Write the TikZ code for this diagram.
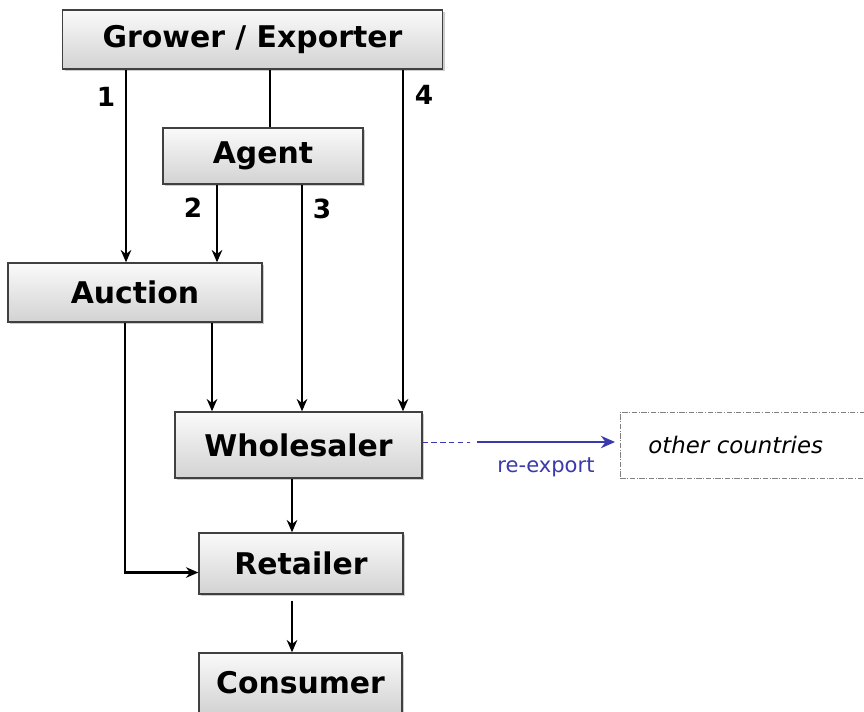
\documentclass[tikz,border=0pt]{standalone}
\usepackage{fontspec}
\setmainfont{DejaVu Sans}
\usetikzlibrary{shadows,arrows.meta}
\definecolor{exportblue}{RGB}{58,58,172}

\tikzset{
  stage/.style={draw=black!75, line width=0.8pt, top color=gray!4, bottom color=gray!35,
    drop shadow={shadow xshift=1.4pt, shadow yshift=-1.4pt, opacity=0.4},
    font=\bfseries\fontsize{17}{20}\selectfont, inner sep=0pt},
  flow/.style={-{Stealth[length=7pt,width=6pt]}, line width=1.3pt},
  num/.style={font=\bfseries\fontsize{15}{18}\selectfont},
  export/.style={draw=exportblue, text=exportblue}
}

\begin{document}
\begin{tikzpicture}[x=0.02cm,y=-0.02cm]
\useasboundingbox (0,0) rectangle (864,711);

% the chain
\node[stage, minimum width=7.6cm, minimum height=1.18cm] (grower) at (252.5,39.5) {Grower / Exporter};
\node[stage, minimum width=4cm, minimum height=1.12cm] (agent) at (263,156) {Agent};
\node[stage, minimum width=5.08cm, minimum height=1.18cm] (auction) at (135,292.5) {Auction};
\node[stage, minimum width=4.94cm, minimum height=1.32cm] (wholesaler) at (298.5,445) {Wholesaler};
\node[stage, minimum width=4.08cm, minimum height=1.22cm] (retailer) at (301,563.5) {Retailer};
\node[stage, minimum width=4.06cm, minimum height=1.2cm] (consumer) at (300.5,683) {Consumer};

% re-export
\node[draw=gray, densely dashdotted, line width=0.5pt, anchor=west, minimum height=1.32cm,
  text width=4.08cm, inner xsep=0.56cm, align=left,
  font=\itshape\fontsize{13}{16}\selectfont] (abroad) at (620,445) {other countries};
\coordinate (dashend) at (470,442);

% channel numbers
\node[num] (n1) at (106,97) {1};
\node[num] (n4) at (424,95) {4};
\node[num] (n2) at (193,208) {2};
\node[num] (n3) at (322,209) {3};

\draw[flow] (grower.south -| 126,0) -- (auction.north -| 126,0);
\draw[line width=1.3pt] (grower.south -| 270,0) -- (agent.north -| 270,0);
\draw[flow] (grower.south -| 403,0) -- (wholesaler.north -| 403,0);
\draw[flow] (agent.south -| 217,0) -- (auction.north -| 217,0);
\draw[flow] (agent.south -| 302,0) -- (wholesaler.north -| 302,0);
\draw[flow] (auction.south -| 212,0) -- (wholesaler.north -| 212,0);
\draw[flow] (auction.south -| 125,0) |- ([yshift=-0.18cm]retailer.west);
\draw[flow] (wholesaler.south -| 292,0) -- (retailer.north -| 292,0);
\draw[flow] ([yshift=-0.12cm]retailer.south -| 292,0) -- (consumer.north -| 292,0);

\draw[export, densely dashed, line width=0.5pt] (wholesaler.east |- dashend) -- (dashend);
\draw[export, line width=1.6pt, -{Stealth[length=8pt,width=7pt]}]
  ([xshift=0.14cm]dashend) -- node[below=5pt, font=\fontsize{12}{14}\selectfont] {re-export}
  ([xshift=-0.1cm]abroad.west |- dashend);

\end{tikzpicture}
\end{document}
